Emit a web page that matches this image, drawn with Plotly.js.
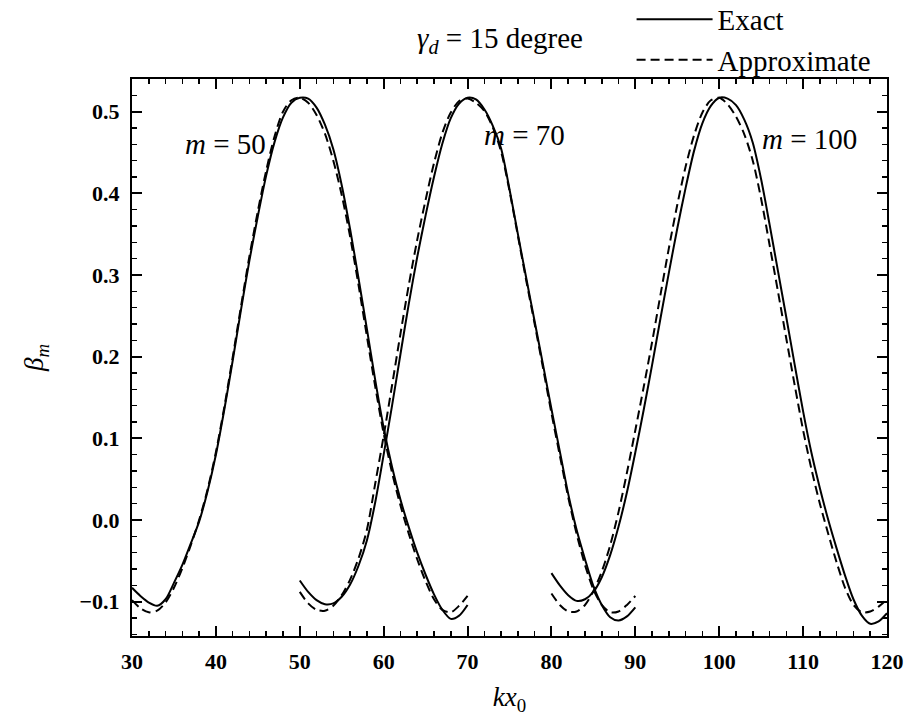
<!DOCTYPE html>
<html>
<head>
<meta charset="utf-8">
<script src="https://cdn.plot.ly/plotly-3.0.1.min.js"></script>
<style>html,body{margin:0;padding:0;background:#fff;}#chart{width:907px;height:722px;}</style>
</head>
<body>
<div id="chart"></div>
<script>
// kx0 grids (integer steps)
var kx50 = [30,31,32,33,34,35,36,37,38,39,40,41,42,43,44,45,46,47,48,49,50,51,52,53,54,55,56,57,58,59,60,61,62,63,64,65,66,67,68,69,70];
var kx70 = [50,51,52,53,54,55,56,57,58,59,60,61,62,63,64,65,66,67,68,69,70,71,72,73,74,75,76,77,78,79,80,81,82,83,84,85,86,87,88,89,90];
var kx100 = [80,81,82,83,84,85,86,87,88,89,90,91,92,93,94,95,96,97,98,99,100,101,102,103,104,105,106,107,108,109,110,111,112,113,114,115,116,117,118,119,120];

// beta_m, m = 50
var exact50 = [-0.083,-0.093,-0.101,-0.105,-0.097,-0.077,-0.055,-0.029,-0.002,0.035,0.08,0.135,0.195,0.258,0.318,0.372,0.422,0.463,0.493,0.511,0.517,0.516,0.505,0.484,0.454,0.41,0.356,0.296,0.234,0.171,0.113,0.065,0.025,-0.009,-0.04,-0.067,-0.091,-0.11,-0.121,-0.117,-0.104];
var approx50 = [-0.098,-0.108,-0.113,-0.111,-0.101,-0.083,-0.059,-0.031,0.0,0.037,0.083,0.138,0.199,0.262,0.323,0.378,0.428,0.47,0.5,0.514,0.517,0.511,0.496,0.473,0.44,0.398,0.347,0.288,0.225,0.163,0.106,0.058,0.018,-0.017,-0.048,-0.075,-0.097,-0.11,-0.113,-0.105,-0.093];

// beta_m, m = 70
var exact70 = [-0.074,-0.088,-0.098,-0.103,-0.102,-0.094,-0.079,-0.056,-0.025,0.022,0.08,0.14,0.203,0.265,0.322,0.373,0.42,0.461,0.492,0.51,0.517,0.515,0.503,0.483,0.455,0.405,0.35,0.296,0.243,0.19,0.136,0.084,0.032,-0.012,-0.048,-0.081,-0.104,-0.119,-0.123,-0.118,-0.107];
var approx70 = [-0.088,-0.102,-0.11,-0.111,-0.105,-0.092,-0.073,-0.047,-0.012,0.045,0.103,0.165,0.228,0.288,0.343,0.392,0.437,0.474,0.499,0.513,0.516,0.511,0.501,0.481,0.451,0.403,0.348,0.293,0.24,0.186,0.131,0.079,0.028,-0.017,-0.055,-0.085,-0.104,-0.113,-0.112,-0.104,-0.093];

// beta_m, m = 100
var exact100 = [-0.065,-0.08,-0.092,-0.099,-0.097,-0.088,-0.07,-0.043,-0.008,0.034,0.083,0.135,0.19,0.247,0.303,0.357,0.407,0.452,0.486,0.507,0.517,0.516,0.508,0.49,0.462,0.417,0.362,0.305,0.248,0.19,0.133,0.082,0.039,0.0,-0.035,-0.068,-0.097,-0.117,-0.127,-0.124,-0.114];
var approx100 = [-0.09,-0.104,-0.112,-0.112,-0.104,-0.087,-0.063,-0.031,0.01,0.058,0.11,0.163,0.218,0.276,0.333,0.386,0.433,0.471,0.499,0.514,0.517,0.509,0.494,0.472,0.44,0.393,0.337,0.28,0.222,0.165,0.11,0.062,0.02,-0.017,-0.052,-0.083,-0.104,-0.113,-0.112,-0.106,-0.097];

var seriesNames = ['Exact','Approximate'];
var mLabels = ['<i>m</i> = 50','<i>m</i> = 70','<i>m</i> = 100'];
var titleText = '<i>γ</i><sub><i>d</i></sub> = 15 degree';

var FONT = 'Liberation Serif, Times New Roman, serif';
function solid(x, y, show){
  return {x:x, y:y, type:'scatter', mode:'lines', name:seriesNames[0], showlegend:show, legendgroup:'e',
    line:{color:'#000', width:2, shape:'spline', smoothing:0.8}};
}
function dashed(x, y, show){
  return {x:x, y:y, type:'scatter', mode:'lines', name:seriesNames[1], showlegend:show, legendgroup:'a',
    line:{color:'#000', width:2, dash:'9px,5px', shape:'spline', smoothing:0.8}};
}
var data = [
  solid(kx50, exact50, true), dashed(kx50, approx50, true),
  solid(kx70, exact70, false), dashed(kx70, approx70, false),
  solid(kx100, exact100, false), dashed(kx100, approx100, false)
];

var axisCommon = {
  showline:true, linecolor:'#000', linewidth:2, mirror:'ticks',
  ticks:'inside', ticklen:10, tickwidth:2, tickcolor:'#000',
  showgrid:false, zeroline:false,
  tickfont:{family:FONT, size:22, color:'#000', weight:'bold'}
};
var layout = {
  width:907, height:722,
  margin:{l:132, r:20, t:79, b:86, autoexpand:false},
  paper_bgcolor:'#fff', plot_bgcolor:'#fff',
  font:{family:FONT, color:'#000'},
  xaxis: Object.assign({}, axisCommon, {
    range:[30,120], tick0:30, dtick:10, ticklabelstandoff:5,
    minor:{dtick:2, ticks:'inside', ticklen:5, tickwidth:1.5, tickcolor:'#000'},
    title:{text:'<i>kx</i><sub>0</sub>', font:{family:FONT, size:27, color:'#000'}, standoff:14}
  }),
  yaxis: Object.assign({}, axisCommon, {
    range:[-0.142,0.54], tick0:0, dtick:0.1, tickformat:'.1f', ticklabelstandoff:6,
    minor:{dtick:0.02, ticks:'inside', ticklen:5, tickwidth:1.5, tickcolor:'#000'},
    title:{text:'<i>β</i><sub><i>m</i></sub>', font:{family:FONT, size:27, color:'#000'}, standoff:28}
  }),
  showlegend:true,
  legend:{x:0.6617, xanchor:'left', y:1.153, yanchor:'top', bgcolor:'rgba(0,0,0,0)',
    font:{family:FONT, size:29, color:'#000'}, itemwidth:76, tracegroupgap:0},
  annotations:[
    {xref:'paper', yref:'paper', x:0.487, y:1.07, yanchor:'middle', text:titleText, showarrow:false,
     font:{family:FONT, size:29, color:'#000'}},
    {xref:'x', yref:'y', x:41.1, y:0.461, text:mLabels[0], showarrow:false, font:{family:FONT, size:29, color:'#000'}},
    {xref:'x', yref:'y', x:76.8, y:0.471, text:mLabels[1], showarrow:false, font:{family:FONT, size:29, color:'#000'}},
    {xref:'x', yref:'y', x:110.8, y:0.466, text:mLabels[2], showarrow:false, font:{family:FONT, size:29, color:'#000'}}
  ]
};
Plotly.newPlot('chart', data, layout, {displayModeBar:false, staticPlot:true});
</script>
</body>
</html>
